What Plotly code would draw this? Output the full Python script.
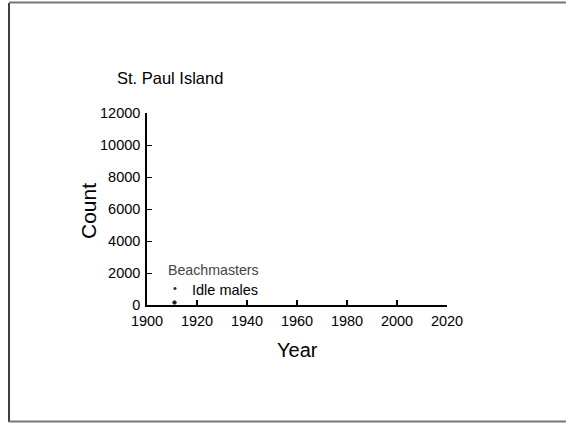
import plotly.graph_objects as go

# Data
years_beach = [1911]
beachmasters = [150]
years_idle = [1911]
idle_males = [150]

x_ticks = [1900, 1920, 1940, 1960, 1980, 2000, 2020]
y_ticks = [0, 2000, 4000, 6000, 8000, 10000, 12000]

W, H = 566, 424
L, R, T, B = 147, 447, 113, 305
pw, ph = R - L, B - T

def px(x):
    return (x - L) / pw

def py(y):
    return (B - y) / ph

font = "Liberation Sans, Arial, sans-serif"

fig = go.Figure()
fig.add_trace(go.Scatter(x=years_beach, y=beachmasters, mode="markers", name="Beachmasters",
                         marker=dict(color="#222", size=4), showlegend=False, cliponaxis=False))
fig.add_trace(go.Scatter(x=years_idle, y=idle_males, mode="markers", name="Idle males",
                         marker=dict(color="#222", size=4), showlegend=False, cliponaxis=False))

fig.update_layout(
    width=W, height=H,
    margin=dict(l=L, r=W - R, t=T, b=H - B),
    paper_bgcolor="white", plot_bgcolor="white",
    font=dict(family=font, color="black", size=14),
    xaxis=dict(range=[1900, 2020], tickvals=x_ticks, tickformat="d", ticks="inside", ticklen=5,
               tickwidth=1.5, tickcolor="black", showline=True, linecolor="black", linewidth=2,
               showgrid=False, zeroline=False, ticklabelstandoff=2,
               tickfont=dict(size=14.5, family=font)),
    yaxis=dict(range=[0, 12000], tickvals=y_ticks, tickformat="d", ticks="inside", ticklen=5,
               tickwidth=1.2, tickcolor="black", showline=True, linecolor="black", linewidth=1.5,
               showgrid=False, zeroline=False, ticklabelstandoff=2,
               tickfont=dict(size=14.5, family=font)),
    showlegend=False,
)

anns = [
    dict(text="St. Paul Island", x=px(115), y=py(78), xanchor="left", yanchor="middle",
         font=dict(size=16.5, family=font, color="black")),
    dict(text="Count", x=px(88), y=py(211), xanchor="center", yanchor="middle", textangle=-90,
         font=dict(size=21, family=font, color="black")),
    dict(text="Year", x=px(297), y=py(350), xanchor="center", yanchor="middle",
         font=dict(size=20, family=font, color="black")),
    dict(text="Beachmasters", x=px(166), y=py(270), xanchor="left", yanchor="middle",
         font=dict(size=14.2, family=font, color="#444")),
    dict(text="Idle males", x=px(190), y=py(290), xanchor="left", yanchor="middle",
         font=dict(size=14.5, family=font, color="black")),
    dict(text="•", x=px(175), y=py(288), xanchor="center", yanchor="middle",
         font=dict(size=11, family=font, color="#222")),
]
for a in anns:
    a.update(xref="paper", yref="paper", showarrow=False)
fig.update_layout(annotations=anns)

fig.update_layout(shapes=[
    dict(type="line", xref="paper", yref="paper", x0=px(9), x1=px(9), y0=py(3), y1=py(422),
         line=dict(color="black", width=1.5)),
    dict(type="line", xref="paper", yref="paper", x0=px(9), x1=px(566), y0=py(2.5), y1=py(2.5),
         line=dict(color="#777", width=2)),
    dict(type="line", xref="paper", yref="paper", x0=px(9), x1=px(566), y0=py(421.5), y1=py(421.5),
         line=dict(color="#777", width=2)),
])

fig.write_html("out.html", config={"displayModeBar": False},
               post_script="document.body.style.margin='0';document.body.style.overflow='hidden';")
